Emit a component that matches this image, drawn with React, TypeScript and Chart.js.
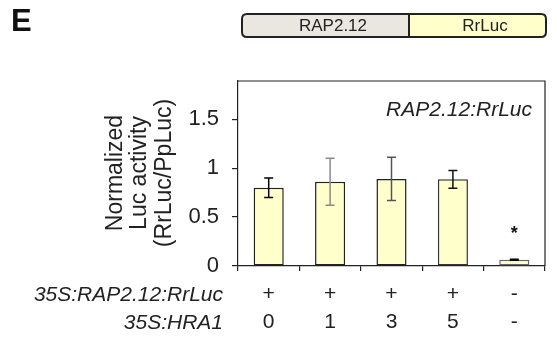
import React, { useEffect, useRef } from "react";
import { Chart, registerables } from "chart.js";

Chart.register(...registerables);

// ---- data ----
const constructRow = ["+", "+", "+", "+", "-"];
const hra1Row = ["0", "1", "3", "5", "-"];
const meanActivity = [0.8, 0.86, 0.89, 0.885, 0.065];
const errActivity = [0.1, 0.24, 0.22, 0.09, 0.005];
const significance = ["", "", "", "", "*"];
const yTickValues = [0, 0.5, 1, 1.5];
const rowHeadings = ["35S:RAP2.12:RrLuc", "35S:HRA1"];
const yTitleLines = ["Normalized", "Luc activity", "(RrLuc/PpLuc)"];
const insetTitle = "RAP2.12:RrLuc";
const panelLetter = "E";
const constructParts = ["RAP2.12", "RrLuc"];

// ---- styles ----
const FONT = "'Liberation Sans', Arial, Helvetica, sans-serif";
const barFill = "#FFFFCC";
const barBorders = ["#222", "#222", "#222", "#333", "#666"];
const errColors = ["#000", "#8a8a8a", "#555", "#111", "#000"];
const axisColor = "#222";

function roundRect(ctx: CanvasRenderingContext2D, x: number, y: number, w: number, h: number, r: number) {
  ctx.beginPath();
  ctx.moveTo(x + r, y);
  ctx.lineTo(x + w - r, y);
  ctx.quadraticCurveTo(x + w, y, x + w, y + r);
  ctx.lineTo(x + w, y + h - r);
  ctx.quadraticCurveTo(x + w, y + h, x + w - r, y + h);
  ctx.lineTo(x + r, y + h);
  ctx.quadraticCurveTo(x, y + h, x, y + h - r);
  ctx.lineTo(x, y + r);
  ctx.quadraticCurveTo(x, y, x + r, y);
  ctx.closePath();
}

const decorPlugin = {
  id: "decor",
  afterDatasetsDraw(chart: any) {
    const ctx: CanvasRenderingContext2D = chart.ctx;
    const area = chart.chartArea;
    const yScale = chart.scales.y;
    const meta = chart.getDatasetMeta(0);
    ctx.save();

    // box (top and right)
    ctx.strokeStyle = axisColor;
    ctx.lineWidth = 1.2;
    ctx.beginPath();
    ctx.moveTo(area.left, area.top);
    ctx.lineTo(area.right, area.top);
    ctx.lineTo(area.right, area.bottom);
    ctx.stroke();

    // error bars
    meta.data.forEach((bar: any, i: number) => {
      const x = bar.x;
      const yHi = yScale.getPixelForValue(meanActivity[i] + errActivity[i]);
      const yLo = yScale.getPixelForValue(meanActivity[i] - errActivity[i]);
      ctx.strokeStyle = errColors[i];
      ctx.lineWidth = 1.5;
      ctx.beginPath();
      ctx.moveTo(x, yHi);
      ctx.lineTo(x, yLo);
      ctx.moveTo(x - 4.5, yHi);
      ctx.lineTo(x + 4.5, yHi);
      ctx.moveTo(x - 4.5, yLo);
      ctx.lineTo(x + 4.5, yLo);
      ctx.stroke();
      if (significance[i]) {
        ctx.fillStyle = "#111";
        ctx.font = `bold 18px ${FONT}`;
        ctx.textAlign = "center";
        ctx.textBaseline = "middle";
        ctx.fillText(significance[i], x, yHi - 25);
      }
    });

    // inset title
    ctx.fillStyle = "#222";
    ctx.font = `italic 21px ${FONT}`;
    ctx.textAlign = "right";
    ctx.textBaseline = "middle";
    ctx.fillText(insetTitle, area.right - 13, 110);

    ctx.restore();
  },
  afterDraw(chart: any) {
    const ctx: CanvasRenderingContext2D = chart.ctx;
    ctx.save();
    ctx.fillStyle = "#222";

    // y title
    ctx.save();
    ctx.translate(140, 173);
    ctx.rotate(-Math.PI / 2);
    ctx.font = `23px ${FONT}`;
    ctx.textAlign = "center";
    ctx.textBaseline = "middle";
    yTitleLines.forEach((t, i) => ctx.fillText(t, 0, (i - 1) * 24.5));
    ctx.restore();

    // row headings
    ctx.font = `italic 21px ${FONT}`;
    ctx.textAlign = "right";
    ctx.textBaseline = "middle";
    ctx.fillText(rowHeadings[0], 223, 295);
    ctx.fillText(rowHeadings[1], 223, 323);

    // panel letter
    ctx.font = `bold 31px ${FONT}`;
    ctx.textAlign = "left";
    ctx.textBaseline = "middle";
    ctx.fillStyle = "#111";
    ctx.fillText(panelLetter, 11, 22);

    // construct box
    const bx = 242, by = 14, bw = 304, bh = 23, div = 409;
    ctx.save();
    roundRect(ctx, bx, by, bw, bh, 5);
    ctx.clip();
    ctx.fillStyle = "#EAE7E0";
    ctx.fillRect(bx, by, div - bx, bh);
    ctx.fillStyle = "#FFFFCC";
    ctx.fillRect(div, by, bx + bw - div, bh);
    ctx.restore();
    ctx.strokeStyle = "#222";
    ctx.lineWidth = 2;
    roundRect(ctx, bx, by, bw, bh, 5);
    ctx.stroke();
    ctx.beginPath();
    ctx.moveTo(div, by);
    ctx.lineTo(div, by + bh);
    ctx.stroke();
    ctx.fillStyle = "#222";
    ctx.font = `17px ${FONT}`;
    ctx.textAlign = "center";
    ctx.textBaseline = "middle";
    ctx.fillText(constructParts[0], 333, 26);
    ctx.fillText(constructParts[1], 485, 26);

    ctx.restore();
  },
};

export default function App() {
  const ref = useRef<HTMLCanvasElement>(null);
  useEffect(() => {
    if (!ref.current) return;
    const labels = constructRow.map((c, i) => [c, hra1Row[i]]);
    const chart = new Chart(ref.current, {
      type: "bar",
      data: {
        labels,
        datasets: [
          {
            data: meanActivity,
            backgroundColor: barFill,
            borderColor: barBorders,
            borderWidth: 1.5,
            borderSkipped: false,
            categoryPercentage: 1,
            barPercentage: 0.49,
          },
        ],
      },
      options: {
        animation: false,
        responsive: false,
        events: [],
        layout: { padding: { top: 81, right: 12, left: 0, bottom: 0 } },
        plugins: { legend: { display: false }, tooltip: { enabled: false }, title: { display: false } },
        scales: {
          x: {
            afterFit: (s: any) => {
              s.height = 72;
            },
            grid: {
              drawOnChartArea: false,
              drawTicks: true,
              tickLength: 5,
              color: axisColor,
              lineWidth: 1.2,
              offset: true,
            },
            border: { display: true, color: axisColor, width: 1.2 },
            ticks: {
              color: "#222",
              font: { family: FONT, size: 21, lineHeight: 1.35 },
              padding: 9,
              maxRotation: 0,
              autoSkip: false,
            },
          },
          y: {
            min: 0,
            max: 1.89,
            afterFit: (s: any) => {
              s.width = 238;
            },
            afterBuildTicks: (s: any) => {
              s.ticks = yTickValues.map((v) => ({ value: v }));
            },
            grid: {
              drawOnChartArea: false,
              drawTicks: true,
              tickLength: 6,
              color: axisColor,
              lineWidth: 1.2,
            },
            border: { display: true, color: axisColor, width: 1.2 },
            ticks: {
              color: "#222",
              font: { family: FONT, size: 22 },
              padding: 13,
              callback: (v: any) => String(v),
            },
          },
        },
      },
      plugins: [decorPlugin],
    });
    return () => chart.destroy();
  }, []);
  return (
    <div style={{ position: "fixed", left: 0, top: 0, width: 557, height: 338, background: "#fff" }}>
      <canvas ref={ref} width={557} height={338} style={{ width: 557, height: 338, display: "block" }} />
    </div>
  );
}
